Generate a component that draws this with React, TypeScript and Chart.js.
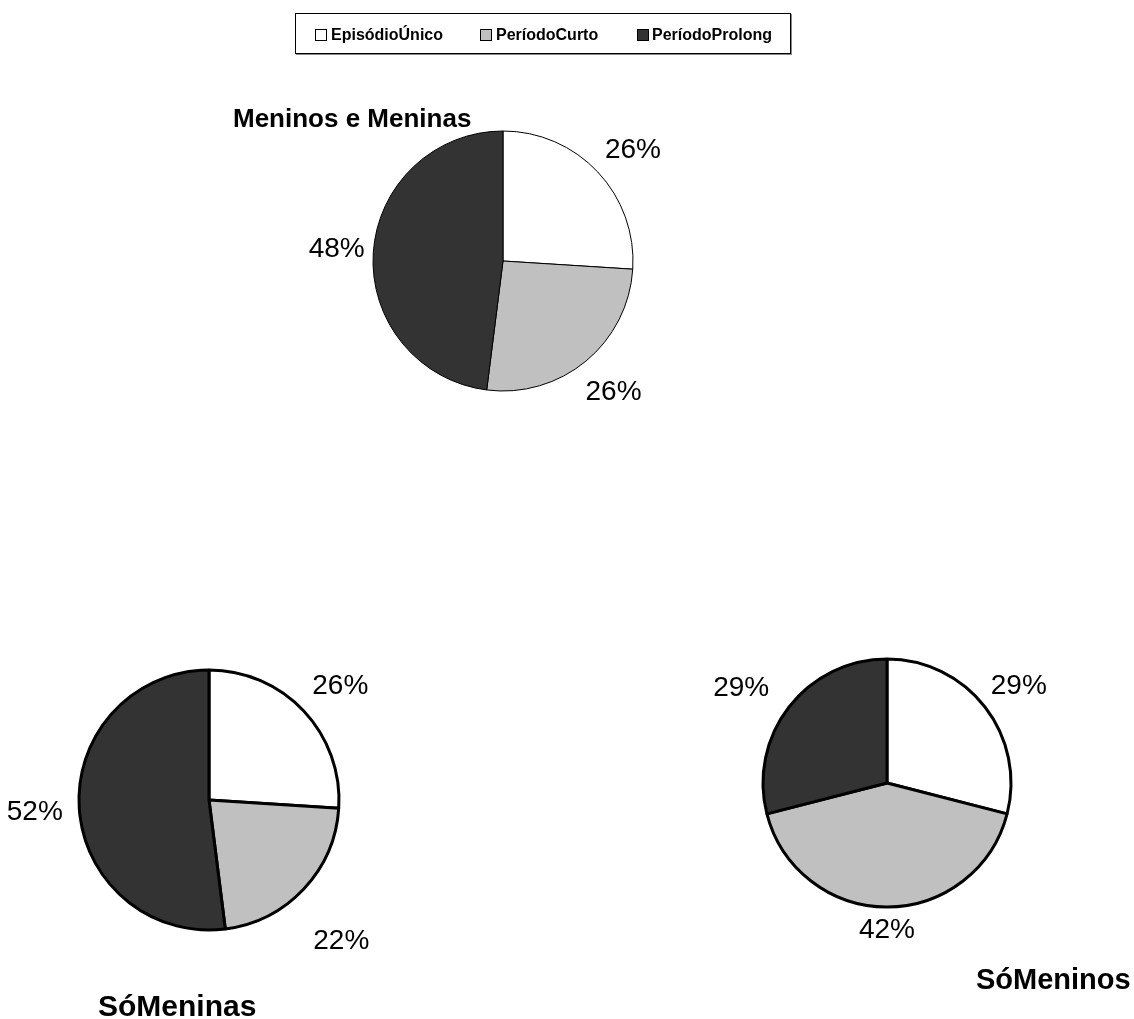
import React, { useEffect, useRef } from "react";
import { Chart, registerables } from "chart.js";

Chart.register(...registerables);

const categories = ["EpisódioÚnico", "PeríodoCurto", "PeríodoProlong"];
const ambosValues = [26, 26, 48];
const meninasValues = [26, 22, 52];
const meninosValues = [29, 42, 29];
const chartTitles = ["Meninos e Meninas", "SóMeninas", "SóMeninos"];
const sliceColors = ["#FFFFFF", "#C0C0C0", "#333333"];

const W = 1134;
const H = 1019;
const FONT = "Arial, 'Liberation Sans', sans-serif";

type PieSpec = {
  values: number[];
  cx: number;
  cy: number;
  r: number;
  border: number;
  gap: number;
  nudge: [number, number][];
};

const pies: PieSpec[] = [
  {
    values: ambosValues,
    cx: 503,
    cy: 261,
    r: 130,
    border: 1,
    gap: 10,
    nudge: [
      [8, 3],
      [5, 3],
      [2, -2],
    ],
  },
  {
    values: meninasValues,
    cx: 209,
    cy: 800,
    r: 130,
    border: 3,
    gap: 16,
    nudge: [
      [5, 4],
      [6, 22],
      [0, 0],
    ],
  },
  {
    values: meninosValues,
    cx: 887,
    cy: 783,
    r: 124,
    border: 3,
    gap: 12,
    nudge: [
      [2, 3],
      [0, 0],
      [-16, 5],
    ],
  },
];

const outsideLabels = {
  id: "outsideLabels",
  afterDatasetsDraw(chart: any, _args: any, opts: any) {
    const ctx = chart.ctx as CanvasRenderingContext2D;
    const meta = chart.getDatasetMeta(0);
    const data = chart.data.datasets[0].data as number[];
    const nudge: [number, number][] = opts.nudge || [];
    ctx.save();
    ctx.font = `28px ${FONT}`;
    ctx.fillStyle = "#000";
    ctx.textAlign = "center";
    ctx.textBaseline = "middle";
    meta.data.forEach((arc: any, i: number) => {
      const p = arc.getProps(["x", "y", "startAngle", "endAngle", "outerRadius"], true);
      const mid = (p.startAngle + p.endAngle) / 2;
      const text = `${data[i]}%`;
      const w = ctx.measureText(text).width;
      const h = 20;
      const c = Math.cos(mid);
      const s = Math.sin(mid);
      const ext = (Math.abs(c) * w) / 2 + (Math.abs(s) * h) / 2;
      const d = p.outerRadius + (opts.gap ?? 10) + ext;
      const [nx, ny] = nudge[i] || [0, 0];
      ctx.fillText(text, p.x + c * d + nx, p.y + s * d + 1 + ny);
    });
    ctx.restore();
  },
};

function PieCanvas({ spec }: { spec: PieSpec }) {
  const ref = useRef<HTMLCanvasElement | null>(null);
  useEffect(() => {
    if (!ref.current) return;
    const half = 150;
    const chart = new Chart(ref.current, {
      type: "pie",
      data: {
        labels: categories,
        datasets: [
          {
            data: spec.values,
            backgroundColor: sliceColors,
            borderColor: "#000000",
            borderWidth: spec.border,
            hoverOffset: 0,
          },
        ],
      },
      options: {
        responsive: false,
        animation: false,
        events: [],
        radius: spec.r,
        layout: {
          padding: {
            left: spec.cx - half,
            right: W - spec.cx - half,
            top: spec.cy - half,
            bottom: H - spec.cy - half,
          },
        },
        plugins: {
          legend: { display: false },
          tooltip: { enabled: false },
          outsideLabels: { gap: spec.gap, nudge: spec.nudge },
        } as any,
      } as any,
      plugins: [outsideLabels],
    });
    return () => chart.destroy();
  }, [spec]);
  return (
    <canvas
      ref={ref}
      width={W}
      height={H}
      style={{ position: "absolute", left: 0, top: 0, width: W, height: H }}
    />
  );
}

const legendItems = [
  { marker: 315, text: 331 },
  { marker: 480, text: 496 },
  { marker: 637, text: 652 },
];

export default function App() {
  return (
    <div
      style={{
        position: "absolute",
        left: 0,
        top: 0,
        width: W,
        height: H,
        overflow: "hidden",
        background: "#FFFFFF",
        fontFamily: FONT,
        color: "#000",
      }}
    >
      {pies.map((p, i) => (
        <PieCanvas key={i} spec={p} />
      ))}
      <div
        style={{
          position: "absolute",
          left: 295,
          top: 13,
          width: 494,
          height: 39,
          border: "1px solid #000",
          boxShadow: "1px 1px 0 #888",
          boxSizing: "content-box",
        }}
      />
      {categories.map((c, i) => (
        <React.Fragment key={c}>
          <div
            style={{
              position: "absolute",
              left: legendItems[i].marker,
              top: 29,
              width: 10,
              height: 10,
              border: "1px solid #000",
              background: sliceColors[i],
            }}
          />
          <span
            style={{
              position: "absolute",
              left: legendItems[i].text,
              top: 27,
              fontSize: 16,
              lineHeight: "16px",
              fontWeight: "bold",
              whiteSpace: "nowrap",
            }}
          >
            {c}
          </span>
        </React.Fragment>
      ))}
      <span
        style={{
          position: "absolute",
          left: 233,
          top: 105,
          fontSize: 26,
          lineHeight: "26px",
          fontWeight: "bold",
          whiteSpace: "nowrap",
        }}
      >
        {chartTitles[0]}
      </span>
      <span
        style={{
          position: "absolute",
          left: 98,
          top: 991,
          fontSize: 30,
          lineHeight: "30px",
          fontWeight: "bold",
          whiteSpace: "nowrap",
        }}
      >
        {chartTitles[1]}
      </span>
      <span
        style={{
          position: "absolute",
          left: 976,
          top: 965,
          fontSize: 29,
          lineHeight: "29px",
          fontWeight: "bold",
          whiteSpace: "nowrap",
        }}
      >
        {chartTitles[2]}
      </span>
    </div>
  );
}
